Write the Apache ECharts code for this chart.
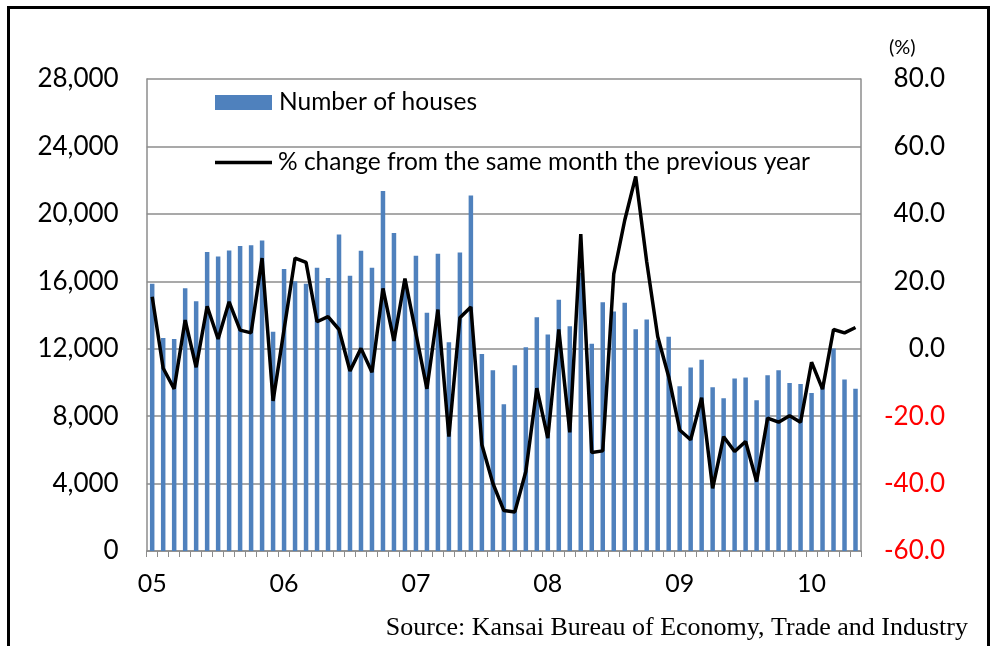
<!DOCTYPE html>
<html>
<head>
<meta charset="utf-8">
<script src="https://cdn.jsdelivr.net/npm/echarts@6/dist/echarts.min.js"></script>
<style>
html,body{margin:0;padding:0;background:#fff;}
#chart{width:995px;height:646px;}
</style>
</head>
<body>
<div id="chart"></div>
<script>
const categories = [
'2005-01','2005-02','2005-03','2005-04','2005-05','2005-06','2005-07','2005-08','2005-09','2005-10','2005-11','2005-12',
'2006-01','2006-02','2006-03','2006-04','2006-05','2006-06','2006-07','2006-08','2006-09','2006-10','2006-11','2006-12',
'2007-01','2007-02','2007-03','2007-04','2007-05','2007-06','2007-07','2007-08','2007-09','2007-10','2007-11','2007-12',
'2008-01','2008-02','2008-03','2008-04','2008-05','2008-06','2008-07','2008-08','2008-09','2008-10','2008-11','2008-12',
'2009-01','2009-02','2009-03','2009-04','2009-05','2009-06','2009-07','2009-08','2009-09','2009-10','2009-11','2009-12',
'2010-01','2010-02','2010-03','2010-04','2010-05'
];
const yearTickLabels = ['05','06','07','08','09','10'];

const houses = [
15850,12640,12580,15580,14810,17730,17470,17830,18100,18140,18420,13010,
16730,16000,15850,16800,16190,18780,16330,17810,16800,21360,18870,15900,
17520,14130,17630,12380,17710,21090,11680,10720,8710,11020,12080,13860,
12850,14910,13340,16500,12300,14760,14210,14730,13150,13730,12520,12710,
9770,10880,11350,9710,9060,10230,10290,8940,10420,10720,9970,9910,
9380,9850,12020,10170,9630
];
const pctChange = [
15.4,-5.8,-11.9,8.5,-5.5,12.6,2.9,13.9,5.5,4.7,26.9,-15.5,
5.7,26.9,25.6,8.0,9.5,5.7,-6.6,0.1,-7.0,17.9,2.3,20.8,
4.5,-11.9,11.6,-26.1,9.2,12.4,-28.5,-39.9,-48.0,-48.4,-36.4,-11.7,
-26.5,5.7,-24.8,34.0,-30.8,-30.3,22.1,38.1,51.1,25.8,3.6,-8.3,
-24.1,-27.0,-14.5,-41.4,-26.1,-30.5,-27.5,-39.4,-20.6,-21.8,-19.9,-21.8,
-4.0,-12.0,5.7,4.7,6.3
];
const seriesNames = ['Number of houses','% change from the same month the previous year'];
const sourceText = 'Source: Kansai Bureau of Economy, Trade and Industry';

const FONT = 'Lato, "Open Sans", sans-serif';
const GRID = '#8c8c8c';

const chart = echarts.init(document.getElementById('chart'), null, {renderer:'canvas'});
chart.setOption({
  animation:false,
  backgroundColor:'#fff',
  graphic:[{
    type:'rect', shape:{x:8.5,y:7.5,width:980,height:700},
    style:{fill:'none',stroke:'#000',lineWidth:3}, silent:true, z:100
  }],
  title:[
    {text:sourceText, right:22, bottom:0,
     textStyle:{fontFamily:'"Liberation Serif", serif',fontSize:26,fontWeight:'normal',color:'#000'}},
    {text:'(%)', left:884, top:33,
     textStyle:{fontFamily:FONT,fontSize:20,fontWeight:'normal',color:'#000'}}
  ],
  legend:[
    {data:[{name:seriesNames[0],icon:'rect'}], left:215, top:90, padding:0, itemWidth:57, itemHeight:15, itemGap:6,
     textStyle:{fontFamily:FONT,fontSize:24.5,color:'#000',padding:[0,0,0,2]}},
    {data:[{name:seriesNames[1],icon:'rect',itemStyle:{color:'#000'}}], left:215, top:150, padding:0, itemWidth:57, itemHeight:3.5,
     textStyle:{fontFamily:FONT,fontSize:24.5,color:'#000',padding:[0,0,0,1]}}
  ],
  grid:{left:146.7, right:134, top:79, bottom:95, containLabel:false},
  xAxis:{
    type:'category', data:categories, boundaryGap:true,
    axisLine:{lineStyle:{color:GRID,width:1.5}},
    axisTick:{show:true, interval:0, length:6, lineStyle:{color:GRID,width:1}},
    axisLabel:{
      interval:0, margin:20, fontFamily:FONT, fontSize:25, color:'#000',
      formatter:function(v,i){ return i%12===0 ? yearTickLabels[i/12] : ''; }
    },
    splitLine:{show:false}
  },
  yAxis:[
    {type:'value', min:0, max:28000, interval:4000, position:'left',
     axisLine:{show:true,lineStyle:{color:GRID,width:1.5}}, axisTick:{show:false},
     splitLine:{show:true,lineStyle:{color:GRID,width:1.5}},
     axisLabel:{margin:28, fontFamily:FONT, fontSize:26, color:'#000',
       formatter:function(v){return v.toLocaleString('en-US');}}},
    {type:'value', min:-60, max:80, interval:20, position:'right',
     axisLine:{show:true,lineStyle:{color:GRID,width:1.5}}, axisTick:{show:false},
     splitLine:{show:false},
     axisLabel:{margin:84, align:'right', fontFamily:FONT, fontSize:26,
       formatter:function(v){return v.toFixed(1);},
       color:function(v){return Number(v)<0 ? '#ff0000' : '#000';}}}
  ],
  series:[
    {name:seriesNames[0], type:'bar', data:houses, yAxisIndex:0, barWidth:4.5,
     itemStyle:{color:'#4f81bd'}},
    {name:seriesNames[1], type:'line', data:pctChange, yAxisIndex:1, symbol:'none',
     lineStyle:{color:'#000',width:3.5}, itemStyle:{color:'#000'}, z:5}
  ]
});
</script>
</body>
</html>
